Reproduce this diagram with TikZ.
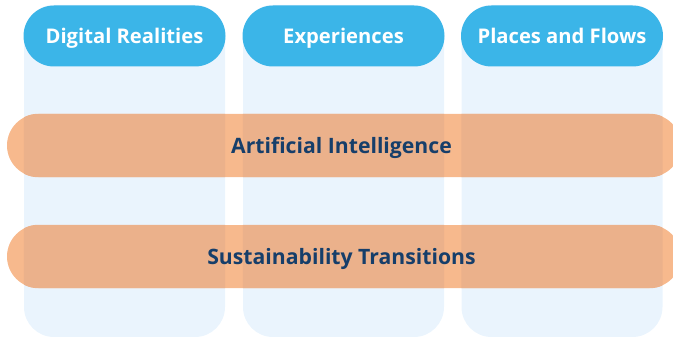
\documentclass[tikz,border=0pt]{standalone}
\usepackage{fontspec}
\setmainfont{Open Sans}[BoldFont={Open Sans Bold}]
\definecolor{colfill}{HTML}{EAF4FD}
\definecolor{headfill}{HTML}{3BB5E8}
\definecolor{barfill}{HTML}{F7B98D}
\definecolor{barover}{HTML}{EBB18B}
\definecolor{bartext}{HTML}{163E6A}
\tikzset{
  x=1pt, y=-1pt,
  column/.style={fill=colfill, draw=none, rounded corners=30pt,
    minimum width=201pt, minimum height=332pt, inner sep=0pt},
  header/.style={fill=headfill, draw=none, rounded corners=30.5pt,
    minimum width=202pt, minimum height=61pt, inner sep=0pt,
    text height=14.3pt, text depth=0pt,
    text=white, font=\bfseries\fontsize{20.2}{24}\selectfont},
  theme/.style={draw=none, rounded corners=31.5pt,
    minimum width=674pt, minimum height=63pt, inner sep=0pt},
  themelabel/.style={text=bartext, inner sep=0pt,
    text height=15.1pt, text depth=0pt,
    font=\bfseries\fontsize{21.2}{25}\selectfont}
}
\begin{document}
\begin{tikzpicture}
\useasboundingbox (0,0) rectangle (673,337);
% pillar backgrounds
\node[column] (c1) at (124.5,171) {};
\node[column] (c2) at (343.5,171) {};
\node[column] (c3) at (562,171) {};
% pillar headers
\node[header] (h1) at (124.5,36) {Digital Realities};
\node[header] (h2) at (343.5,36) {Experiences};
\node[header] (h3) at (562,36) {Places and Flows};
% cross-cutting themes
\node[theme, fill=barfill] (t1) at (344,145.5) {};
\node[theme, fill=barfill] (t2) at (344,256.5) {};
% darker tint where themes cross the pillars
\begin{scope}
  \clip[rounded corners=31.5pt] (t1.north west) rectangle (t1.south east)
        (t2.north west) rectangle (t2.south east);
  \foreach \c in {c1,c2,c3}
    \fill[barover, rounded corners=30pt] (\c.north west) rectangle (\c.south east);
\end{scope}
\node[themelabel] (l1) at (341.5,146) {Artificial Intelligence};
\node[themelabel] (l2) at (341.5,257) {Sustainability Transitions};
\end{tikzpicture}
\end{document}
